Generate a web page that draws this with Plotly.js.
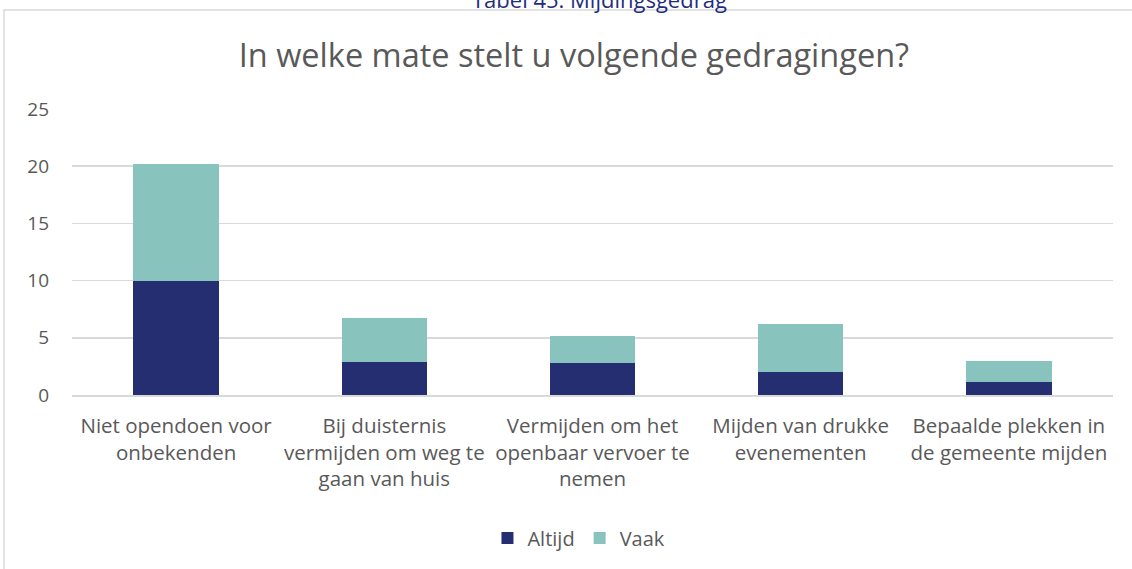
<!DOCTYPE html>
<html>
<head>
<meta charset="utf-8">
<script src="https://cdn.plot.ly/plotly-3.0.1.min.js"></script>
<style>html,body{margin:0;padding:0;background:#fff;}#chart{width:1132px;height:569px;}</style>
</head>
<body>
<div id="chart"></div>
<script>
const categories = [
  "Niet opendoen voor<br>onbekenden",
  "Bij duisternis<br>vermijden om weg te<br>gaan van huis",
  "Vermijden om het<br>openbaar vervoer te<br>nemen",
  "Mijden van drukke<br>evenementen",
  "Bepaalde plekken in<br>de gemeente mijden"
];
const altijd = [10.0, 2.9, 2.8, 2.0, 1.1];
const vaak = [10.2, 3.8, 2.4, 4.2, 1.9];
const seriesNames = ["Altijd", "Vaak"];
const yTicks = [0, 5, 10, 15, 20, 25];

const font = "Open Sans, sans-serif";
const grey = "#595959";

const traces = [
  {type: "bar", name: seriesNames[0], x: categories, y: altijd,
   marker: {color: "#262E72"}, hoverinfo: "y"},
  {type: "bar", name: seriesNames[1], x: categories, y: vaak,
   marker: {color: "#89C3BE"}, hoverinfo: "y"}
];

const layout = {
  width: 1132, height: 569,
  margin: {l: 72, r: 19, t: 109, b: 174},
  barmode: "stack",
  bargap: 0.59,
  paper_bgcolor: "#fff", plot_bgcolor: "#fff",
  font: {family: font, color: grey},
  title: {text: "In welke mate stelt u volgende gedragingen?",
          font: {family: font, size: 32.5, color: grey},
          x: 0.507, xanchor: "center", xref: "container",
          y: 0.903, yanchor: "middle", yref: "container"},
  xaxis: {type: "category", tickfont: {family: font, size: 20.5, color: grey},
          showline: true, linecolor: "#D9D9D9", linewidth: 1.5,
          ticks: "", ticklabelstandoff: 12, showgrid: false},
  yaxis: {range: [0, 25], tickvals: yTicks, gridcolor: "#D9D9D9", gridwidth: 1.5,
          zeroline: false, tickfont: {family: font, size: 19, color: grey},
          ticklabelstandoff: 22, ticks: ""},
  showlegend: true,
  legend: {orientation: "h", x: 0.487, xanchor: "center", y: -0.5, yanchor: "middle",
           font: {family: font, size: 20, color: grey}, traceorder: "normal",
           itemwidth: 30},
  annotations: [
    {text: "Tabel 45: Mijdingsgedrag", xref: "paper", yref: "paper",
     x: 0.507, y: 1.385, xanchor: "center", yanchor: "middle", showarrow: false,
     font: {family: font, size: 22, color: "#1F2D7E"}}
  ],
  shapes: [
    {type: "rect", xref: "paper", yref: "paper", x0: -0.0653, x1: 1.03, y0: -0.7, y1: 1.346,
     line: {color: "#D9D9D9", width: 1.5}, fillcolor: "rgba(0,0,0,0)", layer: "below"}
  ]
};

Plotly.newPlot("chart", traces, layout, {displayModeBar: false, staticPlot: true});
</script>
</body>
</html>
